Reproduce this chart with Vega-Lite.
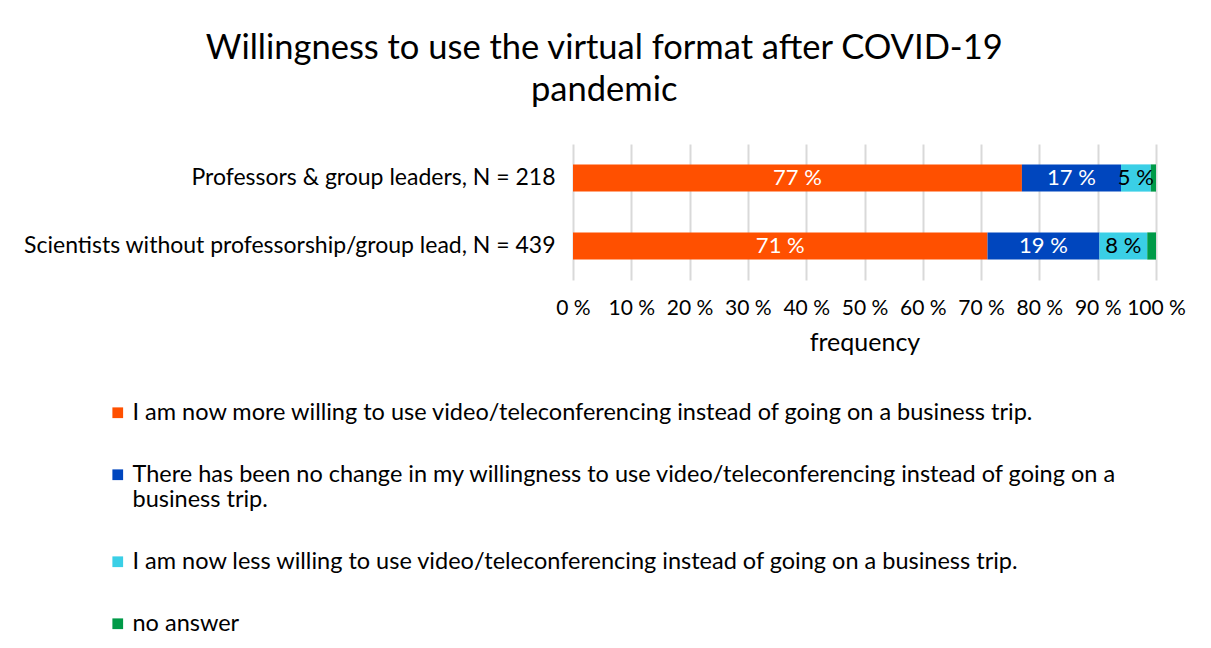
{
  "$schema": "https://vega.github.io/schema/vega-lite/v6.json",
  "autosize": "none",
  "padding": {"left": 573, "top": 144, "right": 55, "bottom": 368},
  "width": 583,
  "height": 136,
  "background": "white",
  "config": {
    "font": "Lato",
    "view": {"stroke": null}
  },
  "title": {
    "text": ["Willingness to use the virtual format after COVID-19", "pandemic"],
    "fontSize": 34.5,
    "fontWeight": "normal",
    "font": "Lato",
    "color": "#000000",
    "lineHeight": 42,
    "anchor": "middle",
    "frame": "bounds",
    "offset": 36
  },
  "data": {
    "values": [
      {"group": "Professors & group leaders, N = 218", "category": "I am now more willing to use video/teleconferencing instead of going on a business trip.", "rank": 1, "value": 77.0, "label": "77 %"},
      {"group": "Professors & group leaders, N = 218", "category": "There has been no change in my willingness to use video/teleconferencing instead of going on a business trip.", "rank": 2, "value": 17.0, "label": "17 %"},
      {"group": "Professors & group leaders, N = 218", "category": "I am now less willing to use video/teleconferencing instead of going on a business trip.", "rank": 3, "value": 5.1, "label": "5 %"},
      {"group": "Professors & group leaders, N = 218", "category": "no answer", "rank": 4, "value": 0.9, "label": ""},
      {"group": "Scientists without professorship/group lead, N = 439", "category": "I am now more willing to use video/teleconferencing instead of going on a business trip.", "rank": 1, "value": 71.1, "label": "71 %"},
      {"group": "Scientists without professorship/group lead, N = 439", "category": "There has been no change in my willingness to use video/teleconferencing instead of going on a business trip.", "rank": 2, "value": 19.2, "label": "19 %"},
      {"group": "Scientists without professorship/group lead, N = 439", "category": "I am now less willing to use video/teleconferencing instead of going on a business trip.", "rank": 3, "value": 8.2, "label": "8 %"},
      {"group": "Scientists without professorship/group lead, N = 439", "category": "no answer", "rank": 4, "value": 1.5, "label": ""}
    ]
  },
  "transform": [
    {"stack": "value", "groupby": ["group"], "sort": [{"field": "rank", "order": "ascending"}], "as": ["v0", "v1"]}
  ],
  "encoding": {
    "y": {
      "field": "group",
      "type": "nominal",
      "sort": null,
      "scale": {"paddingInner": 0.6, "paddingOuter": 0.3},
      "axis": {
        "title": null,
        "domain": false,
        "ticks": false,
        "labelFontSize": 23,
        "labelColor": "#000000",
        "labelPadding": 18,
        "labelLimit": 0
      }
    }
  },
  "layer": [
    {
      "mark": {"type": "bar"},
      "encoding": {
        "x": {
          "field": "v0",
          "type": "quantitative",
          "scale": {"domain": [0, 100], "nice": false},
          "axis": {
            "values": [0, 10, 20, 30, 40, 50, 60, 70, 80, 90, 100],
            "labelExpr": "datum.value + ' %'",
            "title": "frequency",
            "titleFontSize": 25,
            "titleFontWeight": "normal",
            "titleColor": "#000000",
            "titlePadding": 12,
            "labelFontSize": 21,
            "labelColor": "#000000",
            "labelPadding": 17,
            "labelFlush": false,
            "ticks": false,
            "domain": false,
            "grid": true,
            "gridColor": "#d9d9d9",
            "gridWidth": 2
          }
        },
        "x2": {"field": "v1"},
        "color": {
          "field": "category",
          "type": "nominal",
          "scale": {
            "domain": [
              "I am now more willing to use video/teleconferencing instead of going on a business trip.",
              "There has been no change in my willingness to use video/teleconferencing instead of going on a business trip.",
              "I am now less willing to use video/teleconferencing instead of going on a business trip.",
              "no answer"
            ],
            "range": ["#ff5000", "#0046be", "#3acfe6", "#009a48"]
          },
          "legend": {
            "orient": "none",
            "legendX": -467,
            "legendY": 257,
            "title": null,
            "direction": "vertical",
            "symbolType": "square",
            "symbolSize": 115,
            "symbolStrokeWidth": 0,
            "symbolOpacity": 1,
            "labelFontSize": 23.5,
            "labelColor": "#000000",
            "labelLimit": 0,
            "labelOffset": 3,
            "rowPadding": 37,
            "labelExpr": "datum.label == 'There has been no change in my willingness to use video/teleconferencing instead of going on a business trip.' ? ['There has been no change in my willingness to use video/teleconferencing instead of going on a', 'business trip.'] : datum.label"
          }
        }
      }
    },
    {
      "transform": [
        {"filter": "datum.rank < 4"},
        {"fold": ["v0", "v1"], "as": ["edge", "pos"]}
      ],
      "mark": {"type": "text", "fontSize": 22, "align": "center", "baseline": "middle"},
      "encoding": {
        "x": {"field": "pos", "type": "quantitative", "aggregate": "mean"},
        "text": {"field": "label"},
        "detail": {"field": "rank"},
        "color": {
          "condition": {"test": "datum.rank == 3", "value": "#000000"},
          "value": "#ffffff"
        }
      }
    }
  ]
}
